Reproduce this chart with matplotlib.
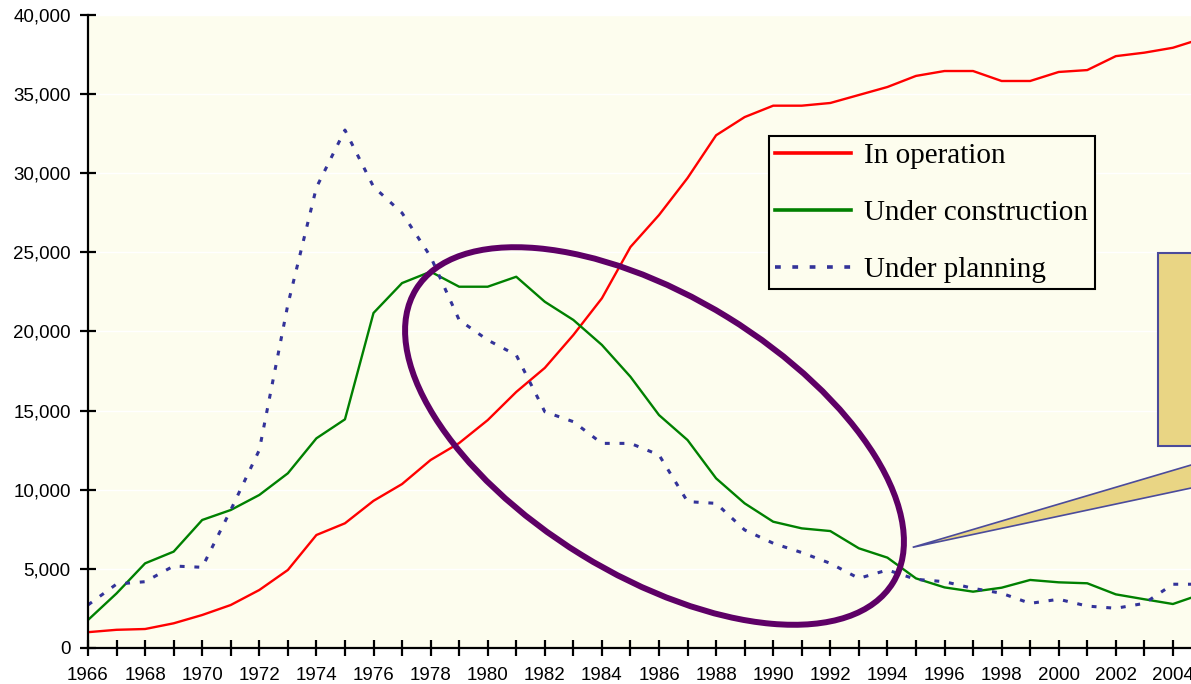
import matplotlib
matplotlib.use('Agg')
import matplotlib.pyplot as plt
from matplotlib.patches import Ellipse, Rectangle, Polygon
from matplotlib.ticker import FuncFormatter, MultipleLocator
import numpy as np

years = list(range(1966, 2006))

in_operation = [1000, 1150, 1200, 1560, 2085, 2717, 3665, 4930, 7140, 7880,
                9300, 10360, 11880, 12950, 14400, 16180, 17700, 19780, 22100, 25340,
                27360, 29700, 32400, 33550, 34270, 34270, 34440, 34945, 35450, 36150,
                36460, 36460, 35830, 35830, 36400, 36520, 37400, 37620, 37930, 38500]

under_construction = [1770, 3450, 5350, 6090, 8090, 8720, 9670, 11040, 13250, 14450,
                      21170, 23060, 23780, 22830, 22830, 23460, 21880, 20730, 19150, 17140,
                      14720, 13140, 10720, 9140, 7980, 7560, 7390, 6300, 5710, 4400,
                      3830, 3560, 3810, 4300, 4150, 4090, 3390, 3080, 2780, 3400]

under_planning = [2720, 4040, 4190, 5180, 5100, 8720, 12510, 21700, 29100, 32730,
                  29150, 27490, 24730, 20730, 19460, 18510, 14930, 14300, 12930, 12930,
                  12200, 9250, 9140, 7460, 6620, 6030, 5350, 4400, 4930, 4340,
                  4190, 3770, 3460, 2820, 3080, 2650, 2510, 2820, 4030, 4030]

labels = ['In operation', 'Under construction', 'Under planning']

W, H = 1191, 684
fig = plt.figure(figsize=(W / 100, H / 100), dpi=100)
ax = fig.add_axes([88 / W, (H - 648) / H, 1 - 88 / W, (648 - 15) / H])
ax.set_facecolor('#fdfdee')

ax.plot(years, in_operation, color='#ff0000', lw=1.7, label=labels[0])
ax.plot(years, under_construction, color='#008000', lw=1.7, label=labels[1])
ax.plot(years, under_planning, color='#333399', lw=2.2, ls=(0, (1.6, 3.2)), label=labels[2])

ax.set_xlim(1966, 1966 + (W - 88) / 28.55)
ax.set_ylim(0, 40000)

for s in ['top', 'right']:
    ax.spines[s].set_visible(False)
for s in ['left', 'bottom']:
    ax.spines[s].set_linewidth(1.6)
    ax.spines[s].set_color('black')

ax.yaxis.set_major_locator(MultipleLocator(5000))
ax.yaxis.set_major_formatter(FuncFormatter(lambda v, p: f'{int(v):,}'))
ax.set_xticks(years[:-1])
ax.set_xticklabels([str(y) if y % 2 == 0 else '' for y in years[:-1]])
ax.tick_params(axis='both', direction='inout', length=11, width=1.6, color='black',
               labelsize=13.5, labelfontfamily='Liberation Sans')
ax.tick_params(axis='y', pad=7)
ax.tick_params(axis='x', pad=8)
ax.grid(axis='y', color='white', lw=1.0)
ax.set_axisbelow(True)

leg = ax.legend(loc='upper left', bbox_to_anchor=(769 / W, (H - 136) / H),
                bbox_transform=fig.transFigure,
                prop={'family': ['Liberation Serif', 'DejaVu Serif'], 'size': 21},
                frameon=True, fancybox=False, framealpha=1, facecolor='#fdfdee',
                edgecolor='black', borderpad=0.22, labelspacing=1.05,
                handlelength=2.6, handletextpad=0.45, borderaxespad=0)
leg.get_frame().set_linewidth(1.5)
for ln in leg.get_lines():
    ln.set_linewidth(2.6)

# highlight ellipse and callout (pixel positions, y measured from top)
def px(x, y):
    return (x / 100, (H - y) / 100)

tr = fig.dpi_scale_trans
ax.add_patch(Ellipse(px(654.5, 436), 5.6, 2.79, angle=-31.6, transform=tr,
                     fill=False, edgecolor='#5e0066', lw=4.3, clip_on=False, zorder=6))
ax.add_patch(Polygon([px(912.7, 547.3), px(1250, 447.6), px(1250, 475.5)], closed=True,
                     transform=tr, facecolor='#e9d584', edgecolor='#4b4b9b', lw=1.2,
                     clip_on=False, zorder=6))
ax.add_patch(Rectangle(px(1158, 446), 1.0, (446 - 252.7) / 100, transform=tr,
                       facecolor='#e9d584', edgecolor='#4b4b9b', lw=1.5,
                       clip_on=False, zorder=6))

fig.savefig('out.png', dpi=100)
